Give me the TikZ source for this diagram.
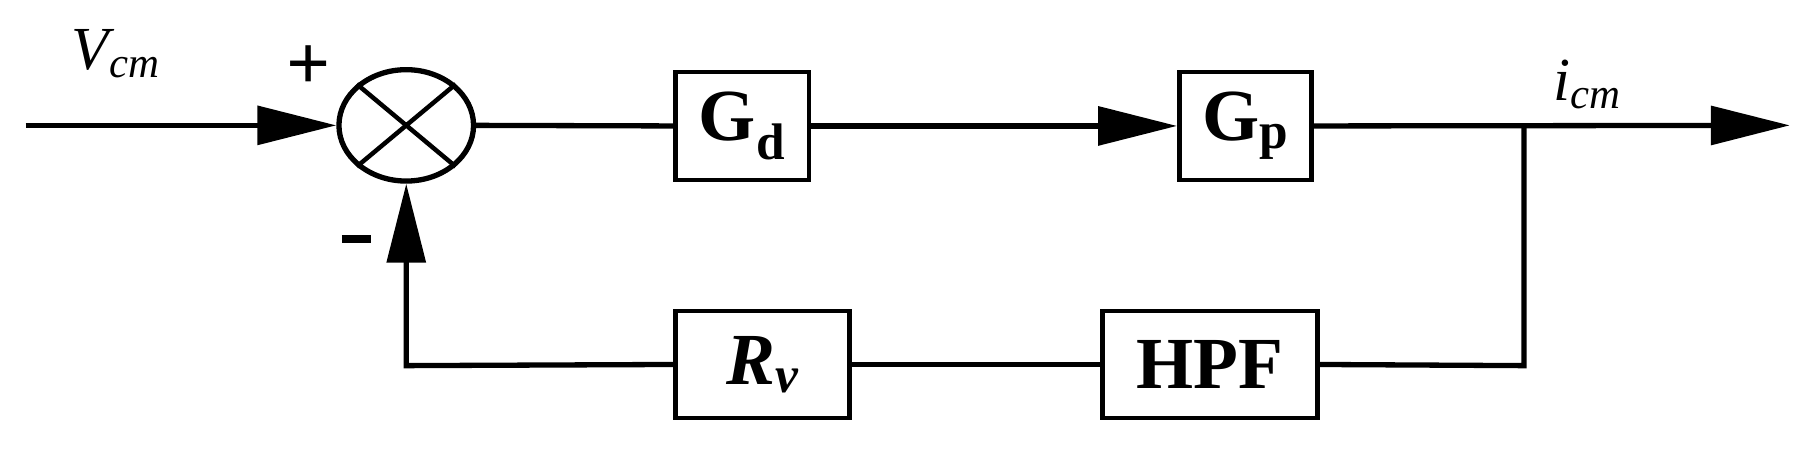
\documentclass[tikz,border=0pt]{standalone}
\usepackage{fontspec}
\setmainfont{Liberation Serif}
\usetikzlibrary{arrows.meta,shapes.geometric}
\begin{document}
\begin{tikzpicture}[x=0.02cm,y=-0.02cm,
  ln/.style={line width=2.6pt},
  arr/.style={ln,-{Triangle[length=1.36cm,width=0.66cm]}},
  blk/.style={draw,line width=2.2pt,inner sep=0pt,font=\fontsize{36}{36}\selectfont\bfseries}]
\useasboundingbox (0,0) rectangle (1568,386);
\coordinate (in) at (22,108);
\node[draw,ellipse,line width=2.6pt,inner sep=0pt,minimum width=2.32cm,minimum height=1.92cm] (s) at (350,108) {};
\draw[line width=2.2pt] (s.north west)--(s.south east) (s.north east)--(s.south west);
\node[blk,minimum width=2.3cm,minimum height=1.86cm] (gd) at (639.5,108.5) {G\textsubscript{d}};
\node[blk,minimum width=2.28cm,minimum height=1.86cm] (gp) at (1073,108.5) {G\textsubscript{p}};
\node[blk,minimum width=3cm,minimum height=1.84cm] (rv) at (657,314) {\itshape R\textsubscript{v}};
\node[blk,minimum width=3.7cm,minimum height=1.84cm] (hpf) at (1042.5,314) {HPF};
\coordinate (out) at (1542,108);
\coordinate (br) at (1313,108);
\coordinate (bd) at (1313,315);
\coordinate (fc) at (350,315);
\draw[arr] (in) -- (s.west);
\draw[ln] (s.east) -- (gd.west);
\draw[arr] (gd.east) -- (gp.west);
\draw[arr] (gp.east) -- (out);
\draw[ln] (br) -- (bd) -- (hpf.east);
\draw[ln] (hpf.west) -- (rv.east);
\draw[arr] (rv.west) -- (fc) -- (s.south);
\node[font=\fontsize{38}{38}\selectfont\bfseries] (plus) at (266,58) {+};
\node (minus) at (307,206) {\rule{0.5cm}{3.8pt}};
\node[font=\fontsize{30}{30}\selectfont\itshape] (vcm) at (100,46) {V\textsubscript{cm}};
\node[font=\fontsize{30}{30}\selectfont\itshape] (icm) at (1368,73) {i\textsubscript{cm}};
\end{tikzpicture}
\end{document}
